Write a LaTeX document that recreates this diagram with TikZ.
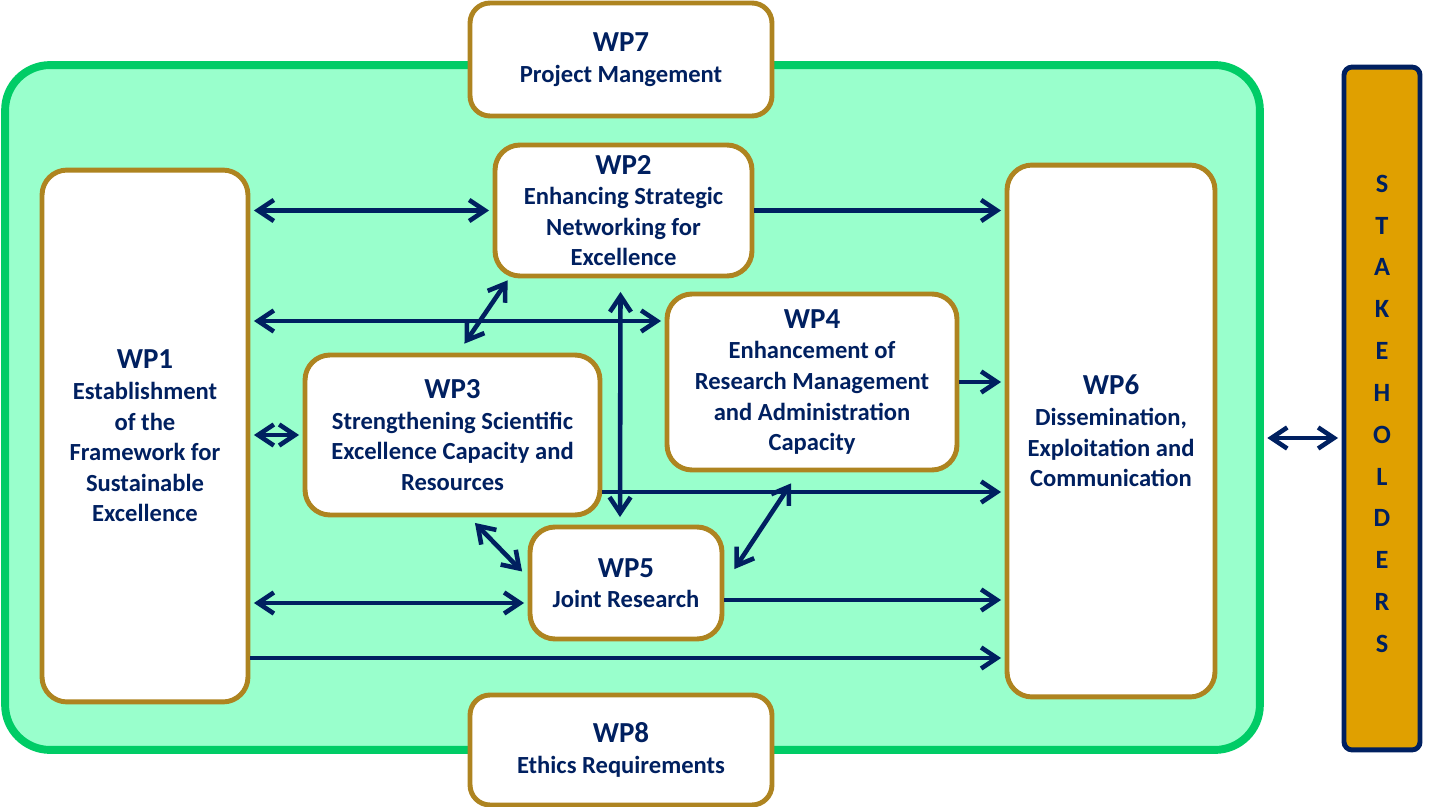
\documentclass[tikz,border=0pt]{standalone}
\usepackage{fontspec}
\setmainfont{Carlito}
\usetikzlibrary{arrows.meta,calc}
\definecolor{navy}{RGB}{0,32,96}
\definecolor{gold}{RGB}{174,132,32}
\definecolor{mint}{RGB}{153,255,204}
\definecolor{leaf}{RGB}{0,204,102}
\definecolor{amber}{RGB}{224,160,0}
\tikzset{
  frame/.style={draw=leaf,fill=mint,line width=4.5pt,rounded corners=0.9cm,minimum width=25.1cm,minimum height=13.7cm},
  wpbox/.style={draw=gold,fill=white,line width=2.8pt,rounded corners=0.5cm,align=center,text=navy,font=\bfseries\fontsize{14}{17.4}\selectfont,inner sep=2pt},
  stake/.style={draw=navy,fill=amber,line width=2.8pt,rounded corners=0.16cm,align=center,text=navy,font=\bfseries\fontsize{15}{23.8}\selectfont,minimum width=1.52cm,minimum height=13.66cm},
  tip/.tip={Straight Barb[length=9pt,width=12pt]},
  arr/.style={-tip,line width=2.6pt,draw=navy,shorten >=2pt},
  biarr/.style={arr,tip-tip,shorten <=2pt}
}
\begin{document}
\begin{tikzpicture}[x=0.02cm,y=-0.02cm]
\useasboundingbox (0,0) rectangle (1436,807);
\node[frame] (core) at (632.5,407.5) {};
\node[wpbox,minimum width=6.04cm,minimum height=2.26cm,rounded corners=0.4cm] (wp7) at (621,59.5) {{\fontsize{16.5}{19}\selectfont WP7}\\Project Mangement};
\node[wpbox,minimum width=6.04cm,minimum height=2.2cm,rounded corners=0.4cm] (wp8) at (621,750) {{\fontsize{16.5}{19}\selectfont WP8}\\Ethics Requirements};
\node[wpbox,minimum width=4.12cm,minimum height=10.64cm] (wp1) at (145,436) {{\fontsize{16.5}{19}\selectfont WP1}\\Establishment\\of the\\Framework for\\Sustainable\\Excellence};
\node[wpbox,minimum width=5.14cm,minimum height=2.62cm] (wp2) at (623.5,210.5) {{\fontsize{16.5}{19}\selectfont WP2}\\Enhancing Strategic\\Networking for\\Excellence};
\node[wpbox,minimum width=5.9cm,minimum height=3.2cm] (wp3) at (452.5,435) {{\fontsize{16.5}{19}\selectfont WP3}\\Strengthening Scientific\\Excellence Capacity and\\Resources};
\node[wpbox,minimum width=5.8cm,minimum height=3.52cm] (wp4) at (812,382) {{\fontsize{16.5}{19}\selectfont WP4}\\Enhancement of\\Research Management\\and Administration\\Capacity};
\node[wpbox,minimum width=3.84cm,minimum height=2.24cm] (wp5) at (626,583) {{\fontsize{16.5}{19}\selectfont WP5}\\Joint Research};
\node[wpbox,minimum width=4.16cm,minimum height=10.64cm] (wp6) at (1111,431) {{\fontsize{16.5}{19}\selectfont WP6}\\Dissemination,\\Exploitation and\\Communication};
\node[stake] (stake) at (1382,408.5) {\\[-8pt]S\\T\\A\\K\\E\\H\\O\\L\\D\\E\\R\\S};
% links between work packages
\draw[biarr] (wp1.east |- wp2.west) -- (wp2.west);
\draw[arr] (wp2.east) -- (wp2.east -| wp6.west);
\draw[biarr] (wp1.east |- 0,321) -- (wp4.west |- 0,321);
\draw[biarr] ($(wp3.north)+(10,-6)$) -- ($(wp2.south west)+(17,-1)$);
\draw[biarr] ($(wp2.south)+(-3,10)$) -- ($(wp5.north)+(-6,-4)$);
\draw[arr] (wp4.east) -- (wp4.east -| wp6.west);
\draw[biarr] (wp1.east |- wp3.west) -- (wp3.west);
\draw[arr] (wp3.east |- 0,492) -- (wp6.west |- 0,492);
\draw[biarr] ($(wp3.south)+(20,3)$) -- ($(wp5.west)+(-3,-9)$);
\draw[biarr] ($(wp4.south)+(-19,8)$) -- ($(wp5.east)+(8,-11)$);
\draw[biarr] (wp1.east |- 0,603) -- (wp5.west |- 0,603);
\draw[arr] (wp5.east |- 0,600) -- (wp6.west |- 0,600);
\draw[arr] (wp1.east |- 0,658) -- (wp6.west |- 0,658);
\draw[biarr] (core.east |- 0,438) -- (stake.west |- 0,438);
\end{tikzpicture}
\end{document}
